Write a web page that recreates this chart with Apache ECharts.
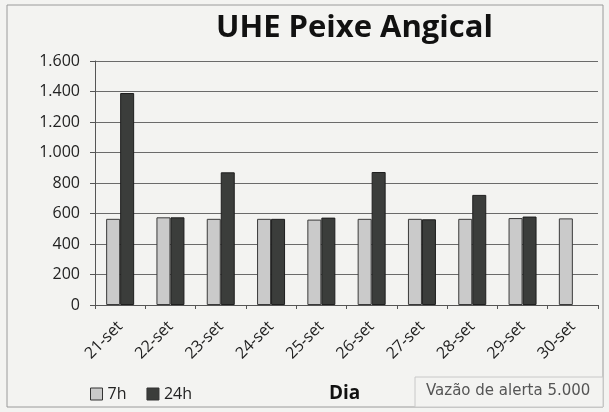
<!DOCTYPE html>
<html>
<head>
<meta charset="utf-8">
<script src="https://cdn.jsdelivr.net/npm/echarts@6/dist/echarts.min.js"></script>
<style>
  html, body { margin: 0; padding: 0; background: #f3f3f1; }
  #main { width: 609px; height: 412px; }
</style>
</head>
<body>
<div id="main"></div>
<script>
var dias = ['21-set', '22-set', '23-set', '24-set', '25-set', '26-set', '27-set', '28-set', '29-set', '30-set']
var vazao7h = [565, 575, 565, 565, 560, 565, 565, 565, 570, 568]
var vazao24h = [1390, 575, 870, 565, 573, 872, 562, 722, 580, null]
var yTicks = [0, 200, 400, 600, 800, 1000, 1200, 1400, 1600]

function fmt(v) {
  // separador de milhar com ponto
  return String(v).replace(/\B(?=(\d{3})+(?!\d))/g, '.')
}

var chart = echarts.init(document.getElementById('main'))
var font = '"Open Sans", "Noto Sans", sans-serif'
chart.setOption({
  backgroundColor: '#f3f3f1',
  animation: false,
  graphic: [
    { type: 'rect', shape: { x: 7, y: 5, width: 596, height: 402 }, style: { fill: 'none', stroke: '#9a9a9a', lineWidth: 1 } },
    { type: 'rect', shape: { x: 415, y: 377, width: 188, height: 30 }, style: { fill: '#f3f3f1', stroke: '#c8c8c8', lineWidth: 1 } },
    { type: 'text', left: 426, top: 384, style: { text: 'Vazão de alerta 5.000', font: '15px "DejaVu Sans", sans-serif', fill: '#555' } },
    { type: 'text', left: 329, top: 384, style: { text: 'Dia', font: 'bold 19px "Open Sans", sans-serif', fill: '#111' } }
  ],
  title: {
    text: 'UHE Peixe Angical',
    left: 216,
    top: 13,
    textStyle: { fontFamily: font, fontSize: 31, fontWeight: 'bold', color: '#111' },
    padding: 0
  },
  legend: {
    left: 85,
    top: 381,
    icon: 'rect',
    itemWidth: 12,
    itemHeight: 12,
    itemGap: 20,
    itemStyle: { borderColor: '#333', borderWidth: 1 },
    textStyle: { fontFamily: font, fontSize: 16, color: '#222' },
    data: ['7h', '24h']
  },
  grid: { left: 95, right: 11, top: 61, bottom: 107 },
  xAxis: {
    type: 'category',
    data: dias,
    axisLine: { lineStyle: { color: '#555', width: 1 } },
    axisTick: { show: true, length: 4, lineStyle: { color: '#555' } },
    axisLabel: { rotate: 45, fontFamily: font, fontSize: 16, color: '#222', margin: 19 }
  },
  yAxis: {
    type: 'value',
    min: yTicks[0],
    max: yTicks[yTicks.length - 1],
    interval: 200,
    axisLine: { show: true, lineStyle: { color: '#555' } },
    axisTick: { show: true, length: 5, lineStyle: { color: '#555' } },
    axisLabel: { fontFamily: font, fontSize: 16, color: '#222', margin: 15, formatter: fmt },
    splitLine: { lineStyle: { color: '#6a6a6a', width: 1 } }
  },
  series: [
    {
      name: '7h',
      type: 'bar',
      data: vazao7h,
      barWidth: 14,
      barGap: '0%',
      itemStyle: { color: '#cacaca', borderColor: '#3a3a3a', borderWidth: 1 }
    },
    {
      name: '24h',
      type: 'bar',
      data: vazao24h,
      barWidth: 14,
      itemStyle: { color: '#3b3d3b', borderColor: '#1e1e1e', borderWidth: 1 }
    }
  ]
})
</script>
</body>
</html>
